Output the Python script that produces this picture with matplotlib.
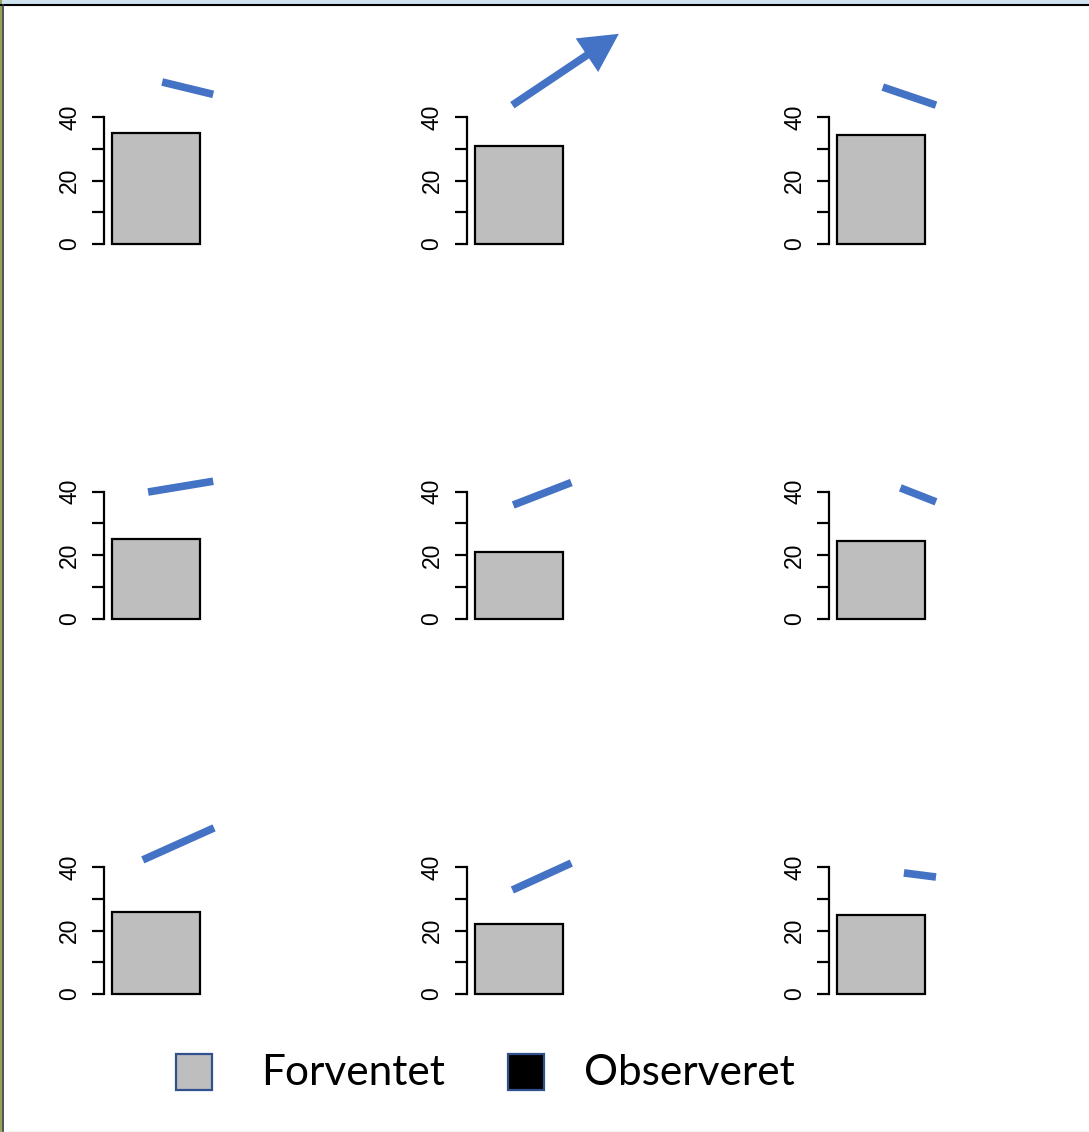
import matplotlib
matplotlib.use('Agg')
import matplotlib.pyplot as plt
from matplotlib.patches import Rectangle

# bar values (Forventet) for the 3x3 panels, row by row
forventet = [35, 31, 34.5,
             25, 21, 24.5,
             26, 22, 25]

# blue trend strokes drawn over each panel, in panel data units
seg_x0 = [0.57, 0.43, 0.52, 0.41, 0.44, 0.72, 0.35, 0.43, 0.76]
seg_x1 = [1.15, 1.64, 1.125, 1.15, 1.10, 1.125, 1.16, 1.10, 1.125]
seg_y0 = [51.1, 43.8, 49.5, 39.9, 35.8, 41.2, 42.3, 32.8, 38.2]
seg_y1 = [47.2, 66.3, 43.8, 43.3, 42.9, 36.8, 52.4, 41.3, 36.9]
arrow_panel = 1

legend_labels = ['Forventet', 'Observeret']
legend_colors = ['#bebebe', '#000000']

W, H = 1089, 1132
blue = '#4472c4'
fig = plt.figure(figsize=(W / 100, H / 100), dpi=100)

axis_x = [104, 466.5, 829]      # pixel x of each column's y axis
zero_y = [244, 618.5, 994]      # pixel y of value 0 in each row
px_x = 88.0                     # pixels per bar-width unit
px_y = 3.17                     # pixels per value unit
xlim = (-0.091, 1.2)
ylim = (-1.6, 41.6)

for i, val in enumerate(forventet):
    r, c = divmod(i, 3)
    left = axis_x[c]
    w = (xlim[1] - xlim[0]) * px_x
    h = (ylim[1] - ylim[0]) * px_y
    bottom = zero_y[r] - ylim[0] * px_y
    ax = fig.add_axes([left / W, (H - bottom) / H, w / W, h / H])
    ax.bar([0], [val], width=1, align='edge', color='#bebebe',
           edgecolor='black', linewidth=1.6)
    ax.set_xlim(*xlim)
    ax.set_ylim(*ylim)
    for s in ['top', 'right', 'bottom']:
        ax.spines[s].set_visible(False)
    ax.spines['left'].set_bounds(0, 40)
    ax.spines['left'].set_linewidth(1.6)
    ax.set_xticks([])
    ax.set_yticks([0, 10, 20, 30, 40])
    ax.set_yticklabels(['0', '', '20', '', '40'], rotation=90, va='center',
                       fontsize=16.5, family='Liberation Sans')
    ax.tick_params(axis='y', length=8.5, width=1.6, pad=8)

    if i == arrow_panel:
        ax.annotate('', xy=(seg_x1[i], seg_y1[i]), xytext=(seg_x0[i], seg_y0[i]),
                    arrowprops=dict(arrowstyle='-|>,head_length=1.9,head_width=1.0',
                                    lw=5.5, color=blue, mutation_scale=10,
                                    shrinkA=0, shrinkB=0, capstyle='butt',
                                    joinstyle='miter'),
                    annotation_clip=False)
    else:
        ax.plot([seg_x0[i], seg_x1[i]], [seg_y0[i], seg_y1[i]], color=blue,
                lw=5.5, solid_capstyle='butt', clip_on=False)

# legend row at the bottom
sq_x = [176, 508]
txt_x = [261, 584]
for k, lab in enumerate(legend_labels):
    fig.patches.append(Rectangle((sq_x[k] / W, (H - 1090) / H), 36 / W, 36 / H,
                                 transform=fig.transFigure, facecolor=legend_colors[k],
                                 edgecolor='#2f528f', linewidth=1.6))
    fig.text(txt_x[k] / W, (H - 1073) / H, lab, fontsize=30.5, family='Lato',
             va='center', ha='left')

# screenshot frame edges
fig.patches.append(Rectangle((0, (H - 4) / H), 1, 4 / H, transform=fig.transFigure,
                             facecolor='#cfe2ef', edgecolor='none'))
fig.patches.append(Rectangle((0, 0), 2 / W, 1, transform=fig.transFigure,
                             facecolor='#93a35a', edgecolor='none'))
fig.add_artist(plt.Line2D([0, 1], [(H - 5) / H] * 2, color='black', lw=1.5))
fig.add_artist(plt.Line2D([3 / W] * 2, [0, (H - 5) / H], color='#333333', lw=1.2))
fig.add_artist(plt.Line2D([0, 1], [0.5 / H] * 2, color='#cccccc', lw=1))

fig.savefig('out.png', dpi=100)
